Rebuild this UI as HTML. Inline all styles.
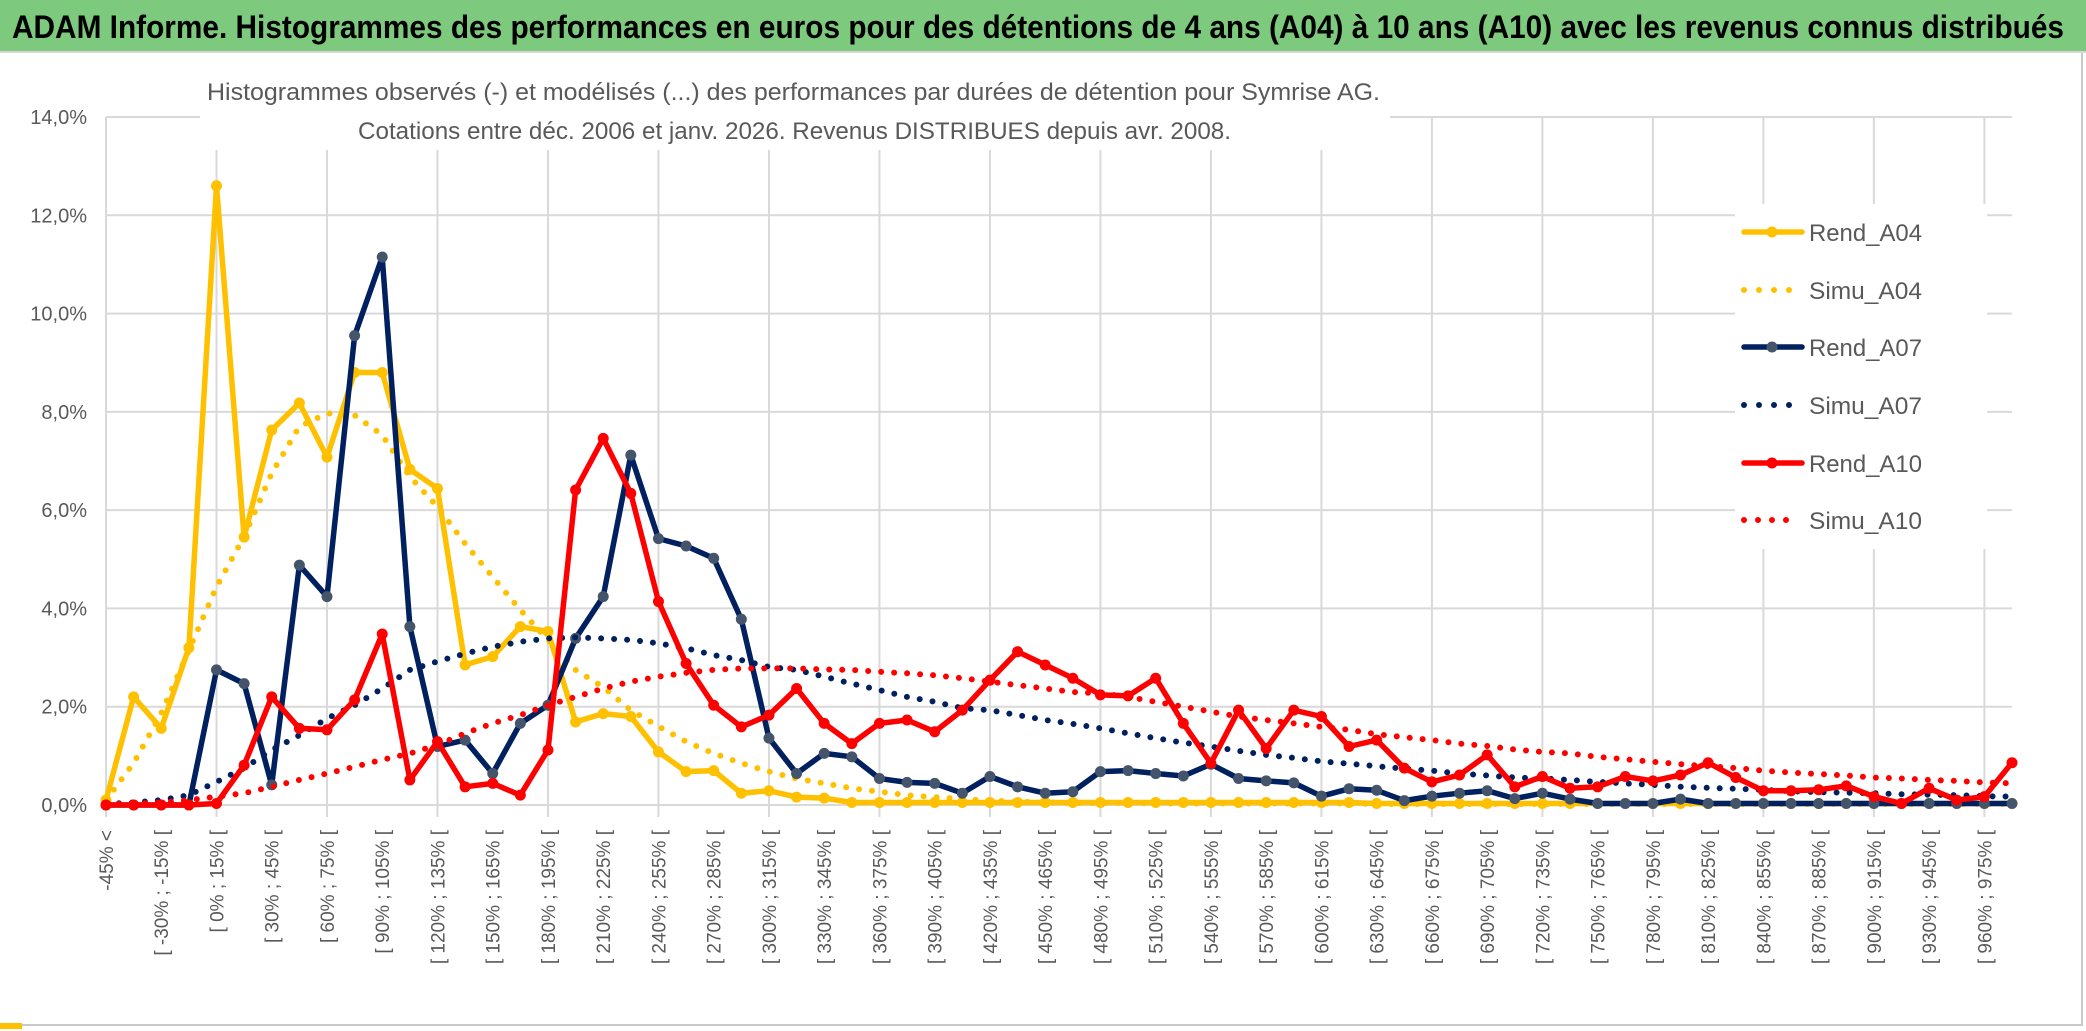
<!DOCTYPE html>
<html><head><meta charset="utf-8"><style>
html,body{margin:0;padding:0;background:#fff;}
svg{display:block;font-family:"Liberation Sans",sans-serif;}
</style></head><body>
<svg id="chart" width="2086" height="1031" viewBox="0 0 2086 1031" xmlns="http://www.w3.org/2000/svg">
<rect x="0" y="0" width="2086" height="1031" fill="#fff"/>
<rect x="0" y="0" width="2086" height="51" fill="#7dc97d"/>
<line x1="0" y1="52" x2="2086" y2="52" stroke="#d8d8d8" stroke-width="2"/>
<text x="12" y="38" font-size="32" font-weight="bold" fill="#000" textLength="2052" lengthAdjust="spacingAndGlyphs">ADAM Informe. Histogrammes des performances en euros pour des détentions de 4 ans (A04) à 10 ans (A10) avec les revenus connus distribués</text>
<g id="grid"></g>
<rect x="200" y="70" width="1190" height="80" fill="#fff"/>
<text x="207" y="100" font-size="24" fill="#595959" textLength="1173" lengthAdjust="spacingAndGlyphs">Histogrammes observés (-) et modélisés (...) des performances par durées de détention pour Symrise AG.</text>
<text x="358" y="139" font-size="24" fill="#595959" textLength="873" lengthAdjust="spacingAndGlyphs">Cotations entre déc. 2006 et janv. 2026. Revenus DISTRIBUES depuis avr. 2008.</text>
<g id="yaxis"></g>
<g id="xaxis"></g>
<g id="series"></g>
<rect x="1735" y="204" width="252" height="345" fill="#fff"/>
<g id="legend"></g>
<line x1="2082" y1="53" x2="2082" y2="1026" stroke="#c8c8c8" stroke-width="2"/>
<line x1="0" y1="1025" x2="2083" y2="1025" stroke="#c8c8c8" stroke-width="2"/>
<rect x="0" y="1023" width="22" height="6" fill="#ffc000"/>
</svg>
<script>
const lowerBounds = [];
for (let b = -45; b <= 975; b += 15) lowerBounds.push(b);
const categories = ["-45% <"].concat(lowerBounds.slice(0, 69).map(b => "[ " + b + "% ; " + (b + 15) + "% ["));
const yTicks = [0, 2, 4, 6, 8, 10, 12, 14];
const yTickLabels = ["0,0%", "2,0%", "4,0%", "6,0%", "8,0%", "10,0%", "12,0%", "14,0%"];
const seriesNames = ["Rend_A04", "Simu_A04", "Rend_A07", "Simu_A07", "Rend_A10", "Simu_A10"];
const rendA04 = [0.1,2.2,1.56,3.2,12.6,5.45,7.63,8.18,7.08,8.8,8.8,6.83,6.44,2.85,3.02,3.63,3.53,1.69,1.86,1.8,1.08,0.68,0.7,0.24,0.29,0.16,0.14,0.05,0.05,0.05,0.05,0.05,0.05,0.05,0.05,0.05,0.05,0.05,0.05,0.05,0.05,0.05,0.05,0.05,0.05,0.05,0.03,0.03,0.03,0.03,0.03,0.03,0.03,0.03,0.03,0.03,0.03,0.03,0.03,0.03,0.03,0.03,0.03,0.03,0.03,0.03,0.03,0.03,0.03,0.03];
const simuA04 = [0.1,0.85,1.86,3.15,4.44,5.46,6.75,7.7,7.97,7.93,7.53,6.68,6.07,5.32,4.64,3.97,3.36,2.75,2.4,1.93,1.6,1.29,1.05,0.85,0.68,0.54,0.44,0.34,0.27,0.2,0.16,0.12,0.09,0.07,0.05,0.04,0.04,0.04,0.03,0.03,0.03,0.03,0.03,0.03,0.03,0.03,0.02,0.02,0.02,0.02,0.02,0.02,0.02,0.02,0.02,0.02,0.02,0.02,0.02,0.02,0.02,0.02,0.02,0.02,0.02,0.02,0.02,0.02,0.02,0.02];
const rendA07 = [0,0,0,0,2.75,2.47,0.41,4.88,4.24,9.55,11.15,3.63,1.19,1.32,0.64,1.66,2.03,3.39,4.24,7.12,5.42,5.27,5.02,3.78,1.36,0.64,1.05,0.98,0.54,0.46,0.44,0.24,0.58,0.37,0.24,0.27,0.68,0.7,0.64,0.59,0.83,0.54,0.49,0.45,0.18,0.33,0.3,0.09,0.18,0.24,0.29,0.13,0.24,0.12,0.03,0.03,0.03,0.12,0.03,0.03,0.03,0.03,0.03,0.03,0.03,0.03,0.03,0.03,0.03,0.03];
const simuA07 = [0.02,0.05,0.1,0.2,0.47,0.75,1.12,1.42,1.76,2.03,2.37,2.75,2.92,3.08,3.22,3.32,3.39,3.41,3.39,3.36,3.29,3.19,3.05,2.95,2.81,2.75,2.61,2.47,2.34,2.2,2.1,1.97,1.93,1.83,1.73,1.65,1.56,1.46,1.36,1.27,1.19,1.1,1.02,0.96,0.89,0.84,0.79,0.74,0.7,0.64,0.6,0.56,0.54,0.51,0.47,0.44,0.41,0.37,0.35,0.33,0.31,0.28,0.26,0.25,0.24,0.22,0.21,0.2,0.18,0.17];
const rendA10 = [0,0,0,0,0.03,0.81,2.2,1.56,1.53,2.14,3.48,0.51,1.29,0.37,0.44,0.2,1.12,6.41,7.46,6.34,4.14,2.88,2.03,1.59,1.83,2.37,1.66,1.25,1.66,1.73,1.49,1.93,2.54,3.12,2.85,2.58,2.24,2.22,2.58,1.66,0.85,1.93,1.15,1.93,1.8,1.19,1.32,0.75,0.47,0.61,1.02,0.37,0.58,0.34,0.37,0.58,0.49,0.61,0.86,0.56,0.29,0.29,0.31,0.39,0.17,0.03,0.34,0.1,0.17,0.86];
const simuA10 = [0.02,0.03,0.05,0.1,0.17,0.24,0.37,0.51,0.64,0.78,0.92,1.05,1.22,1.46,1.66,1.83,2.03,2.2,2.37,2.51,2.61,2.69,2.75,2.78,2.78,2.78,2.76,2.75,2.71,2.68,2.64,2.58,2.51,2.44,2.37,2.3,2.27,2.2,2.1,2.0,1.9,1.8,1.73,1.66,1.59,1.53,1.44,1.38,1.32,1.25,1.2,1.13,1.08,1.05,0.98,0.93,0.88,0.83,0.79,0.75,0.7,0.66,0.63,0.6,0.56,0.54,0.51,0.49,0.46,0.44];

const NS = "http://www.w3.org/2000/svg";
const plotLeft = 106, plotRight = 2012, yZero = 805, yTop = 117, yMax = 14;
const step = (plotRight - plotLeft) / (categories.length - 1);
function xScale(i) { return plotLeft + i * step; }
function yScale(v) { return yZero - v / yMax * (yZero - yTop); }
function mk(tag, attrs, parent) {
  const e = document.createElementNS(NS, tag);
  for (const k in attrs) e.setAttribute(k, attrs[k]);
  parent.appendChild(e);
  return e;
}
const grid = document.getElementById("grid");
yTicks.forEach(t => {
  const l = mk("line", {x1: plotLeft, x2: plotRight, y1: yScale(t), y2: yScale(t), stroke: "#d9d9d9", "stroke-width": 2}, grid);
  
  
});
for (let i = 0; i < categories.length; i += 4) {
  const l = mk("line", {x1: xScale(i), x2: xScale(i), y1: yTop, y2: yZero + 12, stroke: "#d9d9d9", "stroke-width": 2}, grid);
  
  
}
const yaxis = document.getElementById("yaxis");
yTicks.forEach((t, k) => {
  const tx = mk("text", {x: 87, y: yScale(t) + 7, "text-anchor": "end", "font-size": 20, fill: "#595959"}, yaxis);
  tx.textContent = yTickLabels[k];
  
  
});
const xaxis = document.getElementById("xaxis");
categories.forEach((c, i) => {
  if (i % 2) return;
  const x = xScale(i) + 7, y = 830;
  const tx = mk("text", {x: x, y: y, "text-anchor": "end", "font-size": 19, fill: "#595959", transform: "rotate(-90 " + x + " " + y + ")"}, xaxis);
  tx.textContent = c;
  
  
});
const seriesData = [rendA04, simuA04, rendA07, simuA07, rendA10, simuA10];
const colors = ["#ffc000", "#ffc000", "#002060", "#002060", "#ff0000", "#ff0000"];
const markerFill = ["#ffc000", null, "#44546a", null, "#ff0000", null];
const sg = document.getElementById("series");
seriesData.forEach((data, s) => {
  const g = mk("g", {}, sg);
  
  
  const pts = data.map((v, i) => xScale(i).toFixed(1) + "," + yScale(v).toFixed(1)).join(" ");
  const solid = markerFill[s] !== null;
  const pl = mk("polyline", {points: pts, fill: "none", stroke: colors[s], "stroke-width": solid ? 5.5 : 6,
    "stroke-linejoin": "round", "stroke-linecap": "round", "stroke-dasharray": solid ? "none" : "0 13"}, g);
  
  
  if (solid) {
    data.forEach((v, i) => {
      const c = mk("circle", {cx: xScale(i), cy: yScale(v), r: 5.5, fill: markerFill[s]}, g);
      
      
    });
  }
});
const lg = document.getElementById("legend");
const legendY = [232, 290, 347, 405, 463, 520];
seriesNames.forEach((n, s) => {
  const g = mk("g", {}, lg);
  
  
  const y = legendY[s];
  const solid = markerFill[s] !== null;
  if (solid) {
    mk("line", {x1: 1744, x2: 1802, y1: y, y2: y, stroke: colors[s], "stroke-width": 5.5, "stroke-linecap": "round"}, g);
    mk("circle", {cx: 1772, cy: y, r: 5.5, fill: markerFill[s]}, g);
  } else {
    mk("line", {x1: 1744, x2: s === 5 ? 1800 : 1790, y1: y, y2: y, stroke: colors[s], "stroke-width": 6, "stroke-linecap": "round", "stroke-dasharray": s === 5 ? "0 14" : "0 15"}, g);
  }
  const t = mk("text", {x: 1809, y: y + 9, "font-size": 24, fill: "#595959", textLength: 113, lengthAdjust: "spacingAndGlyphs"}, g);
  t.textContent = n;
});
</script>
</body></html>
